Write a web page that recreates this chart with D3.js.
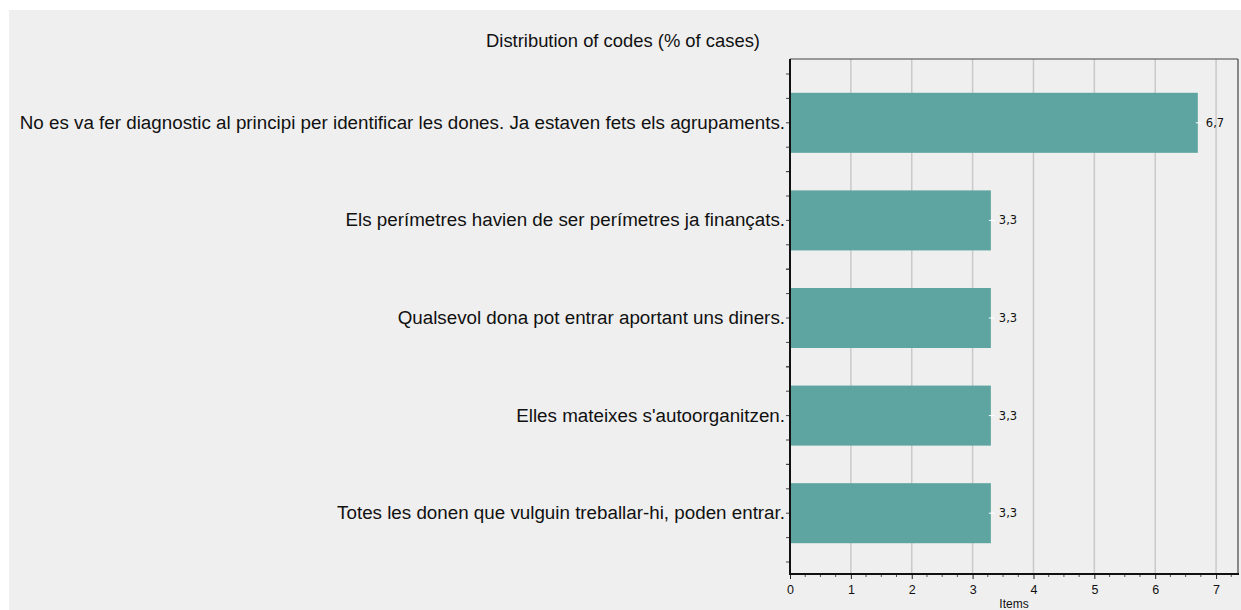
<!DOCTYPE html>
<html>
<head>
<meta charset="utf-8">
<script src="https://cdn.jsdelivr.net/npm/d3@7"></script>
<style>
  body { margin: 0; background: #fff; }
  text { font-family: "Liberation Sans", Arial, sans-serif; fill: #111; }
</style>
</head>
<body>
<svg width="1241" height="610">
  <rect class="bg" x="9" y="10" width="1232" height="600" fill="#efefef"></rect>
  <g class="grid"></g>
  <g class="vis"></g>
  <g class="axis"></g>
</svg>
<script>
const categories = [
    "No es va fer diagnostic al principi per identificar les dones. Ja estaven fets els agrupaments.",
    "Els perímetres havien de ser perímetres ja finançats.",
    "Qualsevol dona pot entrar aportant uns diners.",
    "Elles mateixes s'autoorganitzen.",
    "Totes les donen que vulguin treballar-hi, poden entrar."
]
const values = [6.7, 3.3, 3.3, 3.3, 3.3]
const labels = ["6,7", "3,3", "3,3", "3,3", "3,3"]
const xTicks = [0, 1, 2, 3, 4, 5, 6, 7]

function render() {
    const svg = d3.select('svg')
    const vis = svg.select('g.vis')
    const grid = svg.select('g.grid')
    const axis = svg.select('g.axis')

    const left = 790, right = 1238, top = 59, bottom = 574

    const xScale = d3.scaleLinear()
        .domain([0, 7.36])
        .range([left, right])

    const yScale = d3.scaleBand()
        .domain(categories)
        .range([74, 562])
        .paddingInner(0.385)
        .paddingOuter(0.1925)

    // vertical grid lines
    grid.selectAll('line')
        .data(xTicks.slice(1))
        .enter()
        .append('line')
        .attr('x1', d => xScale(d))
        .attr('x2', d => xScale(d))
        .attr('y1', top)
        .attr('y2', bottom)
        .attr('stroke', '#c9c9c9')
        .attr('stroke-width', 1.5)

    // bars
    vis.selectAll('rect')
        .data(values)
        .enter()
        .append('rect')
        .attr('x', xScale(0))
        .attr('y', (d, i) => yScale(categories[i]))
        .attr('width', d => xScale(d) - xScale(0))
        .attr('height', yScale.bandwidth())
        .attr('fill', '#5ea5a1')

    // little white marks at bar ends
    vis.selectAll('line.cap')
        .data(values)
        .enter()
        .append('line')
        .attr('class', 'cap')
        .attr('x1', d => xScale(d) - 2)
        .attr('x2', d => xScale(d) + 4)
        .attr('y1', (d, i) => yScale(categories[i]) + yScale.bandwidth() / 2)
        .attr('y2', (d, i) => yScale(categories[i]) + yScale.bandwidth() / 2)
        .attr('stroke', '#fff')
        .attr('stroke-width', 1)

    vis.selectAll('text.val')
        .data(values)
        .enter()
        .append('text')
        .attr('class', 'val')
        .attr('x', d => xScale(d) + 8)
        .attr('y', (d, i) => yScale(categories[i]) + yScale.bandwidth() / 2)
        .attr('dy', '0.35em')
        .style('font-family', '"DejaVu Sans", Verdana, sans-serif')
        .style('font-size', '11.5px')
        .text((d, i) => labels[i])

    // frame
    axis.append('line')
        .attr('x1', left).attr('x2', right).attr('y1', top).attr('y2', top)
        .attr('stroke', '#444').attr('stroke-width', 1.2)
    axis.append('line')
        .attr('x1', right).attr('x2', right).attr('y1', top).attr('y2', bottom)
        .attr('stroke', '#444').attr('stroke-width', 1.2)

    // bottom axis
    const xAxis = d3.axisBottom(xScale)
        .tickValues(xTicks)
        .tickSize(5)
        .tickFormat(d3.format('d'))
    const gx = axis.append('g')
        .attr('transform', `translate(0,${bottom})`)
        .call(xAxis)
    gx.select('.domain').remove()
    gx.selectAll('.tick line').attr('stroke', '#222')
    gx.selectAll('.tick text')
        .attr('dy', '0.95em')
        .style('font-size', '12.5px')
        .style('font-family', '"Liberation Sans", Arial, sans-serif')
        .attr('fill', '#111')

    const minor = d3.range(0, 7.36, 0.25).filter(d => d % 1 !== 0)
    axis.selectAll('line.minorx')
        .data(minor)
        .enter()
        .append('line')
        .attr('class', 'minorx')
        .attr('x1', d => xScale(d)).attr('x2', d => xScale(d))
        .attr('y1', bottom).attr('y2', bottom + 3)
        .attr('stroke', '#555')

    axis.append('line')
        .attr('x1', left - 1).attr('x2', right + 1).attr('y1', bottom).attr('y2', bottom)
        .attr('stroke', '#111').attr('stroke-width', 2)

    // left axis
    const yAxis = d3.axisLeft(yScale).tickSize(4).tickPadding(1)
    const gy = axis.append('g')
        .attr('transform', `translate(${left},0)`)
        .call(yAxis)
    gy.select('.domain').remove()
    gy.selectAll('.tick line').attr('stroke', '#444')
    gy.selectAll('.tick text')
        .style('font-size', '18.8px')
        .style('font-family', '"Liberation Sans", Arial, sans-serif')
        .attr('fill', '#111')

    const step = yScale.step()
    const yMinor = []
    categories.forEach(c => {
        const mid = yScale(c) + yScale.bandwidth() / 2
        ;[-2, -1, 1, 2].forEach(k => yMinor.push(mid + k * step / 4))
    })
    axis.selectAll('line.minory')
        .data(yMinor)
        .enter()
        .append('line')
        .attr('class', 'minory')
        .attr('x1', left - 4).attr('x2', left)
        .attr('y1', d => d).attr('y2', d => d)
        .attr('stroke', '#444')

    axis.append('line')
        .attr('x1', left).attr('x2', left).attr('y1', top).attr('y2', bottom)
        .attr('stroke', '#111').attr('stroke-width', 2)

    // titles
    svg.append('text')
        .attr('x', 623)
        .attr('y', 47)
        .attr('text-anchor', 'middle')
        .style('font-size', '18.4px')
        .text('Distribution of codes (% of cases)')

    svg.append('text')
        .attr('x', (left + right) / 2)
        .attr('y', 608)
        .attr('text-anchor', 'middle')
        .style('font-size', '12px')
        .text('Items')
}

render()
</script>
</body>
</html>
